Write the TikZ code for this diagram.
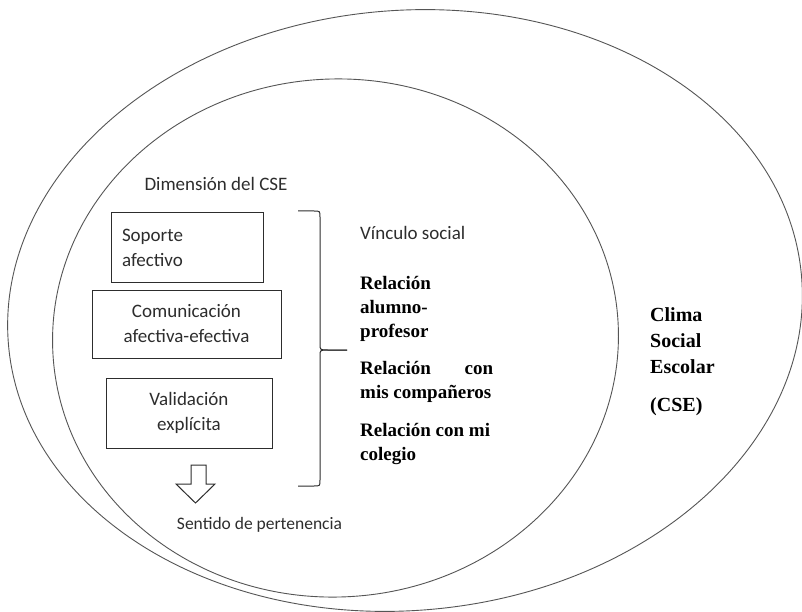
\documentclass[tikz,border=0pt]{standalone}
\usepackage{fontspec}
\newfontfamily\calibrifont{Carlito}
\newfontfamily\timesfont{Liberation Serif}
\definecolor{ink}{RGB}{45,45,45}
\definecolor{linec}{RGB}{85,85,85}
\begin{document}
\begin{tikzpicture}[x=1pt,y=-1pt,
  ell/.style={draw=linec,line width=0.9pt},
  dimbox/.style={draw=ink,line width=1pt,inner sep=0pt,
     font=\calibrifont\fontsize{19}{25}\selectfont,text=ink,align=center},
  sanslbl/.style={font=\calibrifont\fontsize{19}{25}\selectfont,text=ink,inner sep=0pt},
  boldlbl/.style={font=\timesfont\bfseries\fontsize{19}{24}\selectfont,text=black,inner sep=0pt,align=left,anchor=west},
  climalbl/.style={font=\timesfont\bfseries\fontsize{20}{26}\selectfont,text=black,inner sep=0pt,align=left,anchor=west}]
\useasboundingbox (0,0) rectangle (802,612);
\fill[white] (0,0) rectangle (802,612);
% outer oval (Clima Social Escolar)
\begin{scope}[shift={(405,310.5)},rotate=5]
  \draw[ell] (0,0) ellipse [x radius=398, y radius=300];
\end{scope}
% inner oval
\begin{scope}[shift={(335.5,338)},rotate=3]
  \draw[ell] (0,0) ellipse [x radius=283, y radius=259];
\end{scope}
% dimension label
\node[sanslbl] (dim) at (216,184) {Dimensión del CSE};
% boxes
\node[dimbox,minimum width=152pt,minimum height=69pt,text width=130pt,align=left] (sop) at (187,247.5) {Soporte\\afectivo};
\node[dimbox,minimum width=189pt,minimum height=68pt] (com) at (186.5,324) {Comunicación\\afectiva-efectiva};
\node[dimbox,minimum width=166pt,minimum height=70pt] (val) at (189,413) {Validación\\explícita};
% brace
\coordinate (btop) at (298,211);
\coordinate (btip) at (347,350);
\coordinate (bbot) at (298,486);
\draw[draw=ink,line width=1pt] (btop) -- (314,211) .. controls (320,211) .. (320,217) -- (320,344)
   .. controls (320,350) .. (328,350) -- (btip);
\draw[draw=ink,line width=1pt] (btip) -- (328,350) .. controls (320,350) .. (320,356) -- (320,480)
   .. controls (320,486) .. (314,486) -- (bbot);
% block arrow
\draw[draw=ink,line width=1pt,fill=white] (191,465) -- (206,465) -- (206,484) -- (215,484) -- (195.5,503)
   -- (176,484) -- (191,484) -- cycle;
\node[sanslbl,font=\calibrifont\fontsize{17.5}{22}\selectfont] (sent) at (259.5,525) {Sentido de pertenencia};
% vinculo
\node[sanslbl,anchor=west] (vin) at (360,233) {Vínculo social};
\node[boldlbl] (r1) at (360,309) {Relación\\alumno-\\profesor};
\node[boldlbl] (r2) at (360,381.5) {\makebox[133pt][s]{Relación con}\\mis compañeros};
\node[boldlbl] (r3) at (360,443.5) {Relación con mi\\colegio};
% clima
\node[climalbl] (clima) at (650,341) {Clima\\Social\\Escolar};
\node[climalbl] (cse) at (650,407) {(CSE)};
\end{tikzpicture}
\end{document}
